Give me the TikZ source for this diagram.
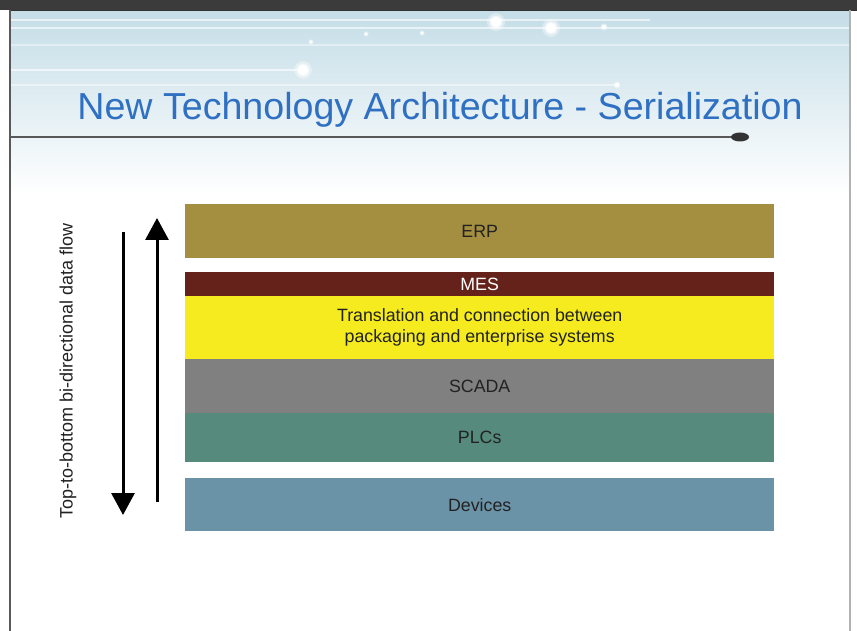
\documentclass[tikz,border=0pt]{standalone}
\usepackage{fontspec}
\setmainfont{Liberation Sans}
\usetikzlibrary{arrows.meta}
\definecolor{bar}{HTML}{3B3B3B}
\definecolor{bgtop}{HTML}{C4DDE7}
\definecolor{bgmid}{HTML}{E2EEF2}
\definecolor{titleblue}{HTML}{2F70C2}
\definecolor{erpc}{HTML}{A38F3F}
\definecolor{mesc}{HTML}{65221A}
\definecolor{transc}{HTML}{F5EB1E}
\definecolor{scadac}{HTML}{808080}
\definecolor{plcc}{HTML}{568A7C}
\definecolor{devc}{HTML}{6B93A8}
\definecolor{txtc}{HTML}{222222}
\tikzset{
  layer/.style={draw=none, minimum width=589pt, inner sep=0pt, anchor=north west,
    text=txtc, align=center, font=\fontsize{17.8}{21}\selectfont},
  flow/.style={line width=3pt, draw=black, -{Triangle[width=23pt,length=22pt]}},
  streak/.style={draw=white, line width=1.1pt, opacity=0.6},
}
\newcommand{\glowdot}[3]{%
  \fill[white, opacity=0.35] (#1,#2) circle ({#3*1.8});
  \fill[white, opacity=0.6] (#1,#2) circle ({#3*1.3});
  \fill[white] (#1,#2) circle (#3);}
\begin{document}
\begin{tikzpicture}[x=1pt,y=-1pt]
\useasboundingbox (0,0) rectangle (857,631);
\fill[white] (0,0) rectangle (857,631);
% header background
\shade[top color=bgtop, middle color=bgmid, bottom color=white] (10,10) rectangle (850,195);
\draw[streak] (10,20) -- (650,20);
\draw[streak] (10,28) -- (850,28);
\draw[streak, opacity=0.4] (10,45) -- (850,45);
\draw[streak] (10,70) -- (303,70);
\draw[streak, opacity=0.45] (10,85) -- (617,85);
\glowdot{496}{22}{5}
\glowdot{551}{28}{5}
\glowdot{303}{70}{5}
\glowdot{604}{27}{2}
\glowdot{617}{85}{2}
\glowdot{366}{34}{1.5}
\glowdot{422}{33}{1.5}
\glowdot{311}{42}{1.5}
% top bar and borders
\fill[bar] (0,0) rectangle (857,10);
\fill[black!80] (9,10) rectangle (857,11.5);
\fill[black!65] (9,10) rectangle (11,631);
\fill[black!30] (849,10) rectangle (851,631);
% title rule
\draw[line width=1.5pt, draw=black!65] (11,137) -- (735,137);
\fill[black!80] (740,137) ellipse (9 and 4.5);
% title
\node[text=titleblue, font=\fontsize{37.6}{40}\selectfont] (title) at (440,110) {New Technology Architecture - Serialization};
% layers
\node[layer, fill=erpc, minimum height=54pt] (erp) at (185,204) {ERP};
\node[layer, fill=mesc, minimum height=24pt, text=white] (mes) at (185,272) {MES};
\node[layer, fill=transc, minimum height=63pt] (trans) at (185,296) {Translation and connection between\\packaging and enterprise systems};
\node[layer, fill=scadac, minimum height=54pt] (scada) at (185,359) {SCADA};
\node[layer, fill=plcc, minimum height=49pt] (plc) at (185,413) {PLCs};
\node[layer, fill=devc, minimum height=53pt] (dev) at (185,478) {Devices};
% flow arrows
\coordinate (downstart) at (123,232);
\coordinate (downend) at (123,515);
\coordinate (upstart) at (157,502);
\coordinate (upend) at (157,218);
\draw[flow] (downstart) -- (downend);
\draw[flow] (upstart) -- (upend);
\node[rotate=90, text=txtc, font=\fontsize{18}{20}\selectfont] (flowlabel) at (68,371) {Top-to-bottom bi-directional data flow};
\end{tikzpicture}
\end{document}
